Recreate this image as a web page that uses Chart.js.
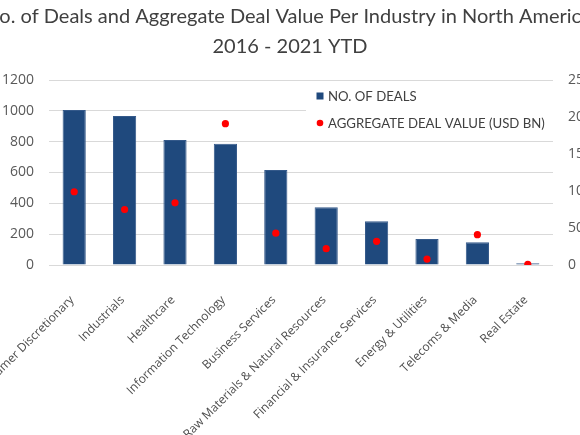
<!DOCTYPE html>
<html>
<head>
<meta charset="utf-8">
<script src="https://cdn.jsdelivr.net/npm/chart.js@4"></script>
<style>
  html, body { margin: 0; padding: 0; background: #fff; overflow: hidden; }
  body { width: 580px; height: 435px; position: relative; }
  #wrap { position: absolute; left: -40px; top: 0; width: 660px; height: 435px; }
</style>
</head>
<body>
<div id="wrap"><canvas id="deals-chart"></canvas></div>
<script>
// industries, in the order of the reference
const industries = [
  "Consumer Discretionary",
  "Industrials",
  "Healthcare",
  "Information Technology",
  "Business Services",
  "Raw Materials & Natural Resources",
  "Financial & Insurance Services",
  "Energy & Utilities",
  "Telecoms & Media",
  "Real Estate",
];

// no. of deals (left axis)
const dealCounts = [1005, 966, 811, 787, 616, 374, 283, 169, 147, 12];

// aggregate deal value, USD bn (right axis)
const dealValues = [99, 75, 84, 191, 43, 22, 32, 8, 41, 1];

const titleLines = [
  "No. of Deals and Aggregate Deal Value Per Industry in North America,",
  "2016 - 2021 YTD",
];

const leftTicks = [0, 200, 400, 600, 800, 1000, 1200];
const rightTicks = [0, 50, 100, 150, 200, 250];

const tickColor = "#595959";
const gridColor = "#d9d9d9";

/* legend sits inside the plot, on a white box over the gridlines */
const insideLegend = {
  id: "insideLegend",
  beforeDatasetsDraw(chart, args, opts) {
    const ctx = chart.ctx;
    const x = chart.chartArea.left + opts.left;
    const y = chart.chartArea.top + opts.top;
    ctx.save();
    ctx.fillStyle = "#fff";
    ctx.fillRect(x, y, opts.width, opts.height);
    ctx.font = "13.2px Lato";
    ctx.textBaseline = "middle";
    ctx.textAlign = "left";
    chart.data.datasets.forEach((ds, i) => {
      const cy = y + opts.rowStart + i * opts.rowGap;
      const mx = x + opts.markX;
      ctx.fillStyle = ds.backgroundColor;
      if (ds.type === "line") {
        ctx.beginPath();
        ctx.arc(mx, cy, 3.3, 0, Math.PI * 2);
        ctx.fill();
      } else {
        ctx.fillRect(mx - 3.5, cy - 3.5, 7, 7);
      }
      ctx.fillStyle = "#404040";
      ctx.fillText(ds.label, x + opts.textX, cy + 0.5);
    });
    ctx.restore();
  },
};

const chartEl = document.getElementById("deals-chart");

new Chart(chartEl, {
  data: {
    labels: industries,
    datasets: [
      {
        type: "bar",
        label: "NO. OF DEALS",
        data: dealCounts,
        yAxisID: "y",
        backgroundColor: "#1f497d",
        borderColor: "#34598a",
        borderWidth: 1,
        categoryPercentage: 1,
        barPercentage: 0.46,
        order: 2,
      },
      {
        type: "line",
        label: "AGGREGATE DEAL VALUE (USD BN)",
        data: dealValues,
        yAxisID: "y1",
        showLine: false,
        backgroundColor: "#ff0000",
        borderColor: "#ff0000",
        pointRadius: 3.6,
        pointHoverRadius: 3.6,
        pointBorderWidth: 0,
        order: 1,
      },
    ],
  },
  options: {
    responsive: true,
    maintainAspectRatio: false,
    animation: false,
    layout: { padding: 0 },
    plugins: {
      legend: { display: false },
      tooltip: { enabled: false },
      title: {
        display: true,
        text: titleLines,
        color: "#404040",
        font: { family: "Lato", size: 20, weight: "normal", lineHeight: "30px" },
        padding: { top: 2, bottom: 18 },
      },
      insideLegend: {
        left: 257,
        top: 3,
        width: 247,
        height: 56,
        rowStart: 13,
        rowGap: 27,
        markX: 14,
        textX: 22,
      },
    },
    scales: {
      x: {
        grid: { display: false },
        border: { display: false },
        ticks: {
          color: "#4d4d4d",
          font: { family: "Open Sans", size: 12 },
          maxRotation: 45,
          minRotation: 45,
          autoSkip: false,
          padding: 20,
          labelOffset: -2,
        },
        afterFit(scale) {
          // fixed band for the slanted labels; let them run off the canvas edge
          scale.height = 170;
          scale.paddingLeft = 0;
          scale.paddingRight = 0;
        },
      },
      y: {
        position: "left",
        min: 0,
        max: 1200,
        grid: { color: gridColor, drawTicks: false, lineWidth: 1 },
        border: { display: false },
        afterBuildTicks(scale) {
          scale.ticks = leftTicks.map((v) => ({ value: v }));
        },
        ticks: {
          color: tickColor,
          font: { family: "Open Sans", size: 14 },
          padding: 15,
          callback: (v) => String(v),
        },
        afterFit(scale) {
          scale.width = 89;
        },
      },
      y1: {
        position: "right",
        min: 0,
        max: 250,
        grid: { display: false, drawTicks: false },
        border: { display: false },
        afterBuildTicks(scale) {
          scale.ticks = rightTicks.map((v) => ({ value: v }));
        },
        ticks: {
          color: tickColor,
          font: { family: "Open Sans", size: 14 },
          padding: 15,
          callback: (v) => String(v),
        },
        afterFit(scale) {
          scale.width = 67;
        },
      },
    },
  },
  plugins: [insideLegend],
});
</script>
</body>
</html>
